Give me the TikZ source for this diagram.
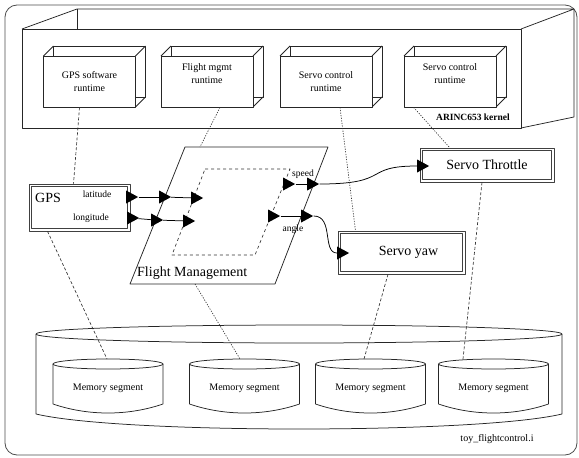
\documentclass[tikz,border=0pt]{standalone}
\usepackage{fontspec}
\setmainfont{Liberation Serif}
\usetikzlibrary{shapes.geometric,calc}
\begin{document}
\begin{tikzpicture}[x=1pt,y=-1pt,line join=round,
  outerframe/.style={draw=black!70, line width=0.8pt, rounded corners=12pt},
  edge3d/.style={draw=black!85, line width=0.75pt},
  rtbox/.style={draw=black!85, line width=0.75pt, fill=white, minimum width=92pt, minimum height=51pt, inner sep=0pt, align=center, font=\fontsize{10}{13}\selectfont},
  compbox/.style={draw=black!75, line width=0.6pt, fill=white, inner sep=0pt},
  innerline/.style={draw=black!75, line width=0.6pt},
  bigtxt/.style={font=\fontsize{14}{16}\selectfont},
  smalltxt/.style={font=\fontsize{9.5}{11}\selectfont, inner sep=0pt},
  port/.style={isosceles triangle, isosceles triangle stretches, fill=black, inner sep=0pt, minimum width=13pt, minimum height=12pt},
  flowline/.style={draw=black, line width=0.75pt},
  dashlink/.style={draw=black!80, line width=0.65pt, dash pattern=on 3pt off 2pt},
  dotlink/.style={draw=black!80, line width=0.65pt, dash pattern=on 1.2pt off 1.4pt},
  memtxt/.style={font=\fontsize{10}{12}\selectfont, minimum width=110pt, minimum height=58pt, inner sep=0pt},
]
\useasboundingbox (0,0) rectangle (579,458);
\draw[outerframe] (5,5) rectangle (577,455);

% kernel box
\draw[edge3d] (22,29) -- (77,9) -- (574,9) -- (521,29);
\draw[edge3d] (77,9) -- (77,29);
\draw[edge3d] (574,9) -- (574,117) -- (521,128);
\node[draw=black!85, line width=0.75pt, minimum width=499pt, minimum height=99pt, inner sep=0pt] (kernel) at (271.5,78.5) {};
\node[font=\bfseries\fontsize{9.5}{11}\selectfont, anchor=east, inner sep=0pt] (kernellbl) at (510,117) {ARINC653 kernel};

% runtime boxes
\foreach \cx in {89.5,207,326,450} {
  \draw[edge3d] ({\cx-36},46) rectangle ({\cx+56},97);
  \draw[edge3d] ({\cx-46},56) -- ({\cx-36},46);
  \draw[edge3d] ({\cx+46},56) -- ({\cx+56},46);
  \draw[edge3d] ({\cx+46},107) -- ({\cx+56},97);
}
\node[rtbox] (rt1) at (89.5,81.5) {GPS software\\runtime};
\node[rtbox] (rt2) at (207,81.5) {Flight mgmt\\runtime\\[3pt]};
\node[rtbox] (rt3) at (326,81.5) {Servo control\\runtime};
\node[rtbox] (rt4) at (450,81.5) {Servo control\\runtime\\[3pt]};

% Flight management
\coordinate (fmA) at (185,147);
\coordinate (fmB) at (328,147);
\coordinate (fmC) at (275,284);
\coordinate (fmD) at (130,284);
\coordinate (fmtop) at (200,147);
\coordinate (fmbot) at (195,284);
\draw[edge3d, fill=white] (fmA) -- (fmB) -- (fmC) -- (fmD) -- cycle;
\coordinate (inA) at (205,169);
\coordinate (inB) at (290,169);
\coordinate (inC) at (255,255);
\coordinate (inD) at (172,255);
\draw[draw=black!80, line width=0.65pt, dash pattern=on 3pt off 3pt] (inA) -- (inB) -- (inC) -- (inD) -- cycle;
\node[bigtxt, anchor=west, inner sep=0pt] (fmlbl) at (137,273) {Flight Management};

% GPS
\node[compbox, minimum width=101pt, minimum height=47pt] (gps) at (79.5,207.5) {};
\draw[innerline] ([shift={(2.6pt,-2.6pt)}]gps.north west) rectangle ([shift={(-2.6pt,2.6pt)}]gps.south east);
\node[bigtxt, anchor=west, inner sep=0pt] (gpslbl) at (35,198) {GPS};
\node[smalltxt] (latlbl) at (97,194) {latitude};
\node[smalltxt] (lonlbl) at (91,218) {longitude};

% servo boxes
\node[compbox, minimum width=134pt, minimum height=34pt, bigtxt] (thr) at (487,165) {Servo Throttle};
\draw[innerline] ([shift={(2.6pt,-2.6pt)}]thr.north west) rectangle ([shift={(-2.6pt,2.6pt)}]thr.south east);
\node[compbox, minimum width=127pt, minimum height=43pt, bigtxt] (yaw) at (401.5,252.5) {\hspace*{14pt}Servo yaw};
\draw[innerline] ([shift={(2.6pt,-2.6pt)}]yaw.north west) rectangle ([shift={(-2.6pt,2.6pt)}]yaw.south east);

% ports
\node[port] (gpslat) at (130,197) {};
\node[port] (gpslon) at (131,218) {};
\node[port] (fmlat) at (163,197) {};
\node[port] (fmlon) at (155,220) {};
\node[port] (inlat) at (195,198) {};
\node[port] (inlon) at (187,221) {};
\node[port] (inspeed) at (287,184) {};
\node[port] (fmspeed) at (311,184) {};
\node[port] (inangle) at (272,216) {};
\node[port] (fmangle) at (305,216) {};
\node[port] (thrin) at (421,166) {};
\node[port] (yawin) at (341,253) {};
\node[smalltxt] (speedlbl) at (303,174) {speed};
\node[smalltxt] (anglelbl) at (293,229) {angle};

% flows
\draw[flowline] (gpslat) -- (fmlat);
\draw[flowline] (fmlat) -- (inlat);
\draw[flowline] (gpslon) -- (fmlon);
\draw[flowline] (fmlon) -- (inlon);
\draw[flowline] (inspeed) -- (fmspeed);
\draw[flowline] (fmspeed.apex) .. controls (392,184) and (362,166) .. (thrin);
\draw[flowline] (inangle) -- (fmangle);
\draw[flowline] (fmangle.apex) .. controls (334,216) and (322,253) .. (yawin);

% memory
\draw[edge3d, fill=white] (36,334) -- (36,414) .. controls (120,434) and (478,434) .. (562,414) -- (562,334);
\draw[edge3d] (299,334) ellipse [x radius=263, y radius=9];
\foreach \i/\cx in {1/108,2/244.5,3/370.5,4/493.5} {
  \draw[edge3d, fill=white] ({\cx-55},364) -- ({\cx-55},404) .. controls ({\cx-20},416) and ({\cx+20},416) .. ({\cx+55},404) -- ({\cx+55},364);
  \draw[edge3d] (\cx,364) ellipse [x radius=55, y radius=5];
  \node[memtxt, anchor=north] (mem\i) at (\cx,359) {Memory segment};
}
\node[font=\fontsize{10}{12}\selectfont, inner sep=0pt] (fname) at (497,439) {toy\_flightcontrol.i};

% bindings
\draw[dashlink] ([xshift=-10pt]rt1.south) -- ([xshift=-6pt]gps.north);
\draw[dashlink] ([xshift=-32pt]gps.south) -- ([xshift=-1pt]mem1.north);
\draw[dotlink] ([xshift=13pt]rt2.south) -- (fmtop);
\draw[dotlink] (fmbot) -- ([xshift=-4.5pt]mem2.north);
\draw[dotlink] ([xshift=14pt]rt3.south) -- ([xshift=-46pt]yaw.north);
\draw[dashlink] ([xshift=-13.5pt]yaw.south) -- ([xshift=-6.5pt]mem3.north);
\draw[dotlink] ([xshift=10pt]rt4.south west) -- ([xshift=30pt]thr.north west);
\draw[dashlink] ([xshift=-5pt]thr.south) -- ([xshift=-30.5pt]mem4.north);
\end{tikzpicture}
\end{document}
